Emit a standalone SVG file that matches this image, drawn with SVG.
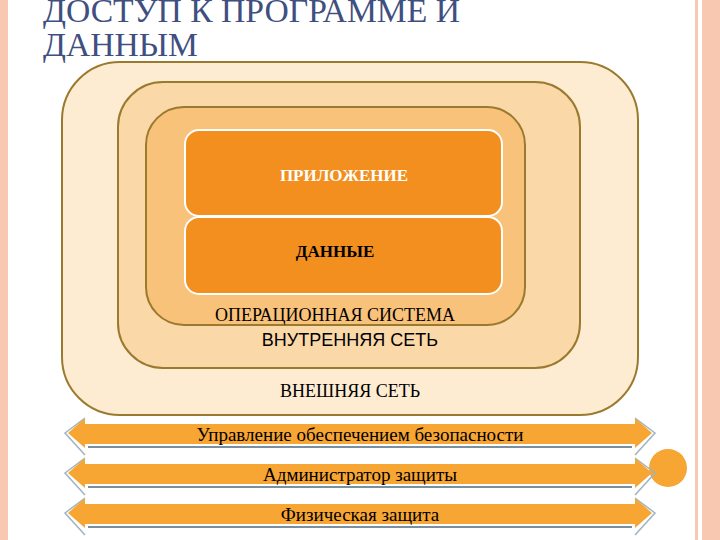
<svg xmlns="http://www.w3.org/2000/svg" width="720" height="540" viewBox="0 0 720 540">
<style>
.l{stroke:#9a7a2e;stroke-width:2}
.t{font-family:"Liberation Serif",serif;fill:#000;text-anchor:middle}
.a{fill:#f7a533}
.s{stroke:#7a8fa0;stroke-width:2;fill:none}
.e{stroke:#9fb3c4;stroke-width:1.5;fill:none}
</style>
<rect x="0" y="0" width="720" height="540" fill="#fff"/>
<rect x="0" y="0" width="8" height="540" fill="#f8c9b0"/>
<rect x="695" y="0" width="3" height="540" fill="#f8c9b0"/>
<rect x="702" y="0" width="18" height="540" fill="#f8c9b0"/>
<text x="43" y="22" font-family="Liberation Serif,serif" font-size="33" fill="#3f4f7f" textLength="417" lengthAdjust="spacingAndGlyphs">ДОСТУП К ПРОГРАММЕ И</text>
<text x="43" y="56" font-family="Liberation Serif,serif" font-size="33" fill="#3f4f7f" textLength="155" lengthAdjust="spacingAndGlyphs">ДАННЫМ</text>
<g id="external"><rect x="62" y="62" width="576" height="353" rx="58" fill="#fdebd2" class="l"/><text class="t" x="350" y="397" font-size="18">ВНЕШНЯЯ СЕТЬ</text></g>
<g id="internal"><rect x="118" y="82" width="462" height="286" rx="45" fill="#fbd8a8" class="l"/><text class="t" x="350" y="346" font-size="18" style="font-family:'Liberation Sans',sans-serif">ВНУТРЕННЯЯ СЕТЬ</text></g>
<g id="os"><rect x="146" y="107" width="379" height="218" rx="38" fill="#f9c27a" class="l"/><text class="t" x="335" y="321" font-size="18">ОПЕРАЦИОННАЯ СИСТЕМА</text></g>
<g id="app"><rect x="185" y="130" width="317" height="86" rx="14" fill="#f28f1f" stroke="#fff" stroke-width="2"/><text class="t" x="344" y="181" font-size="17" font-weight="bold" style="fill:#fff">ПРИЛОЖЕНИЕ</text></g>
<g id="data"><rect x="185" y="217" width="317" height="77" rx="14" fill="#f28f1f" stroke="#fff" stroke-width="2"/><text class="t" x="335" y="257" font-size="17" font-weight="bold">ДАННЫЕ</text></g>
<circle cx="668" cy="468" r="19" fill="#f7a533"/>
<g id="connectors">
<g id="band1"><path class="e" d="M85 418 L65 433 L85 455 M635 418 L655 433 L635 455"/><polygon class="a" points="68,433 85,418 85,424 635,424 635,418 652,433 635,448 635,444 85,444 85,448"/><line class="s" x1="88" y1="447" x2="632" y2="447"/><text class="t" x="360" y="441" font-size="19">Управление обеспечением безопасности</text></g>
<g id="band2"><path class="e" d="M85 458 L65 473 L85 495 M635 458 L655 473 L635 495"/><polygon class="a" points="68,473 85,458 85,464 635,464 635,458 652,473 635,488 635,484 85,484 85,488"/><line class="s" x1="88" y1="487" x2="632" y2="487"/><text class="t" x="360" y="481" font-size="19">Администратор защиты</text></g>
<g id="band3"><path class="e" d="M85 498 L65 513 L85 535 M635 498 L655 513 L635 535"/><polygon class="a" points="68,513 85,498 85,504 635,504 635,498 652,513 635,528 635,524 85,524 85,528"/><line class="s" x1="88" y1="527" x2="632" y2="527"/><text class="t" x="360" y="521" font-size="19">Физическая защита</text></g>
</g>
</svg>
